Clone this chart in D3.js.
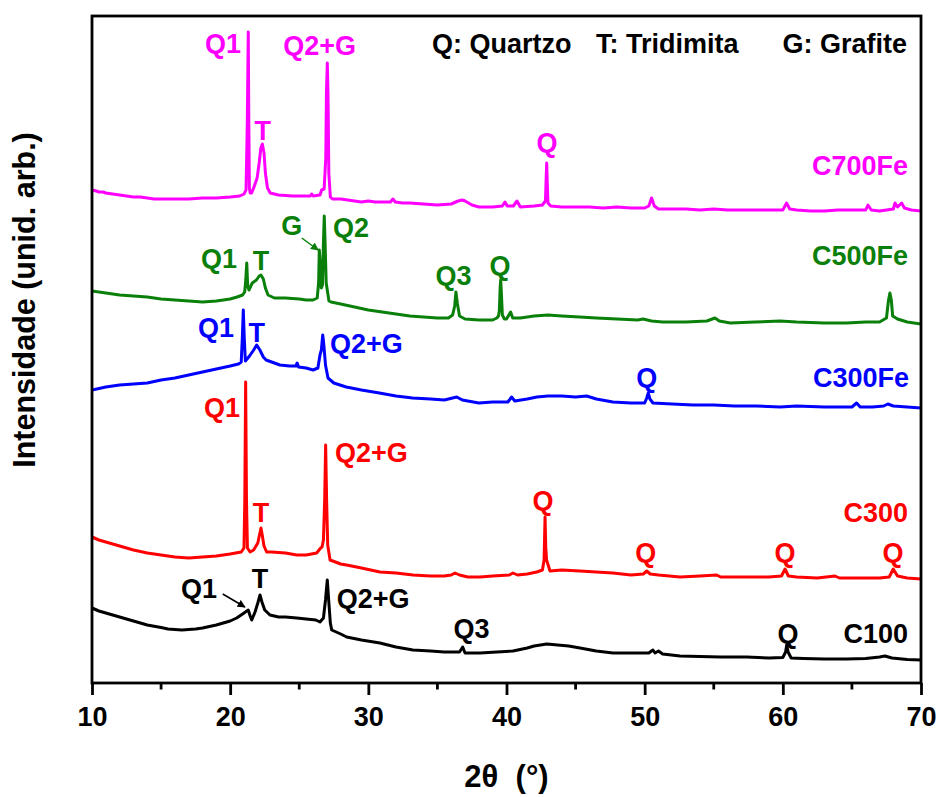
<!DOCTYPE html>
<html>
<head>
<meta charset="utf-8">
<script src="https://cdn.jsdelivr.net/npm/d3@7"></script>
<style>
  html, body { margin: 0; padding: 0; background: #fff; }
  svg text { font-family: "Liberation Sans", Arial, Helvetica, sans-serif; font-weight: bold; }
</style>
</head>
<body>
<svg id="chart" width="938" height="797"></svg>
<script>
// Diffractograms, stacked with a vertical offset (2θ in degrees, intensity in arbitrary units)
const sampleNames = ["C700Fe", "C500Fe", "C300Fe", "C300", "C100"];
const sampleColors = ["#ff00ff", "#0a800a", "#0000ff", "#ff0000", "#000000"];

const c700Fe = [
  [10.0,493],[10.3,492],[10.5,491],[10.8,491],[11.0,490],[11.5,489],[12.0,488],[12.5,487],[13.0,486],[13.5,486],
  [14.0,485],[14.5,484],[15.0,484],[16.0,484],[17.0,484],[18.0,485],[19.0,485],[20.0,486],[20.7,487],[21.0,489],
  [21.15,493],[21.24,560],[21.31,651],[21.35,560],[21.39,495],[21.45,490],[21.55,490],[21.7,495],[21.95,505],
  [22.1,520],[22.22,535],[22.33,539],[22.45,530],[22.55,510],[22.7,495],[22.9,490],[23.5,488],[24.5,487],
  [25.5,487],[25.8,487],[25.9,489],[26.0,487],[26.5,488],[26.62,493],[26.8,494],[26.92,525],[26.97,592],
  [27.03,620],[27.08,590],[27.14,510],[27.25,486],[27.4,484],[28.0,484],[28.5,483],[29.0,482],[29.5,481],
  [30.0,482],[30.5,481],[31.0,481],[31.6,481],[31.78,484],[31.95,481],[32.5,480],[33.0,480],[34.0,479],
  [35.0,478],[36.0,479],[36.5,482],[36.8,483],[37.0,482],[37.5,478],[38.0,476],[39.0,476],[39.7,477],
  [39.89,481],[40.05,477],[40.5,477],[40.76,482],[41.0,476],[42.0,477],[42.6,478],[42.82,482],[42.87,505],
  [42.91,520],[42.95,501],[43.0,480],[43.2,477],[44.0,476],[45.0,476],[46.0,476],[47.0,475],[48.0,476],
  [49.0,475],[50.0,475],[50.3,477],[50.5,485],[50.7,477],[51.0,474],[52.0,474],[53.0,474],[54.0,473],
  [55.0,474],[56.0,473],[57.0,473],[58.0,473],[59.0,473],[60.0,473],[60.27,480],[60.5,474],[61.0,473],
  [62.0,472],[63.0,472],[64.0,473],[65.0,473],[66.0,473],[66.16,478],[66.4,473],[67.0,472],[68.0,474],
  [68.12,480],[68.3,476],[68.6,480],[68.8,475],[69.3,473],[70.0,472]
];

const c500Fe = [
  [10.0,392],[10.5,391],[11.0,390],[12.0,388],[13.0,387],[14.0,386],[15.0,384],[16.0,383],[17.0,382],
  [18.0,381],[19.0,382],[20.0,384],[20.5,386],[20.9,388],[21.05,391],[21.13,403],[21.2,420],[21.27,397],
  [21.36,393],[21.6,400],[21.9,403],[22.1,407],[22.23,408],[22.4,404],[22.55,395],[22.74,388],[23.2,385],
  [24.0,385],[25.0,384],[25.5,383],[26.0,383],[26.3,385],[26.4,400],[26.45,433],[26.52,420],[26.6,395],
  [26.68,398],[26.75,440],[26.81,467],[26.87,440],[26.95,400],[27.15,382],[27.3,381],[28.0,379],[29.0,376],
  [30.0,373],[31.0,371],[32.0,369],[33.0,367],[34.0,366],[35.0,365],[35.8,365],[36.1,368],[36.25,377],
  [36.34,391],[36.45,379],[36.6,367],[37.0,364],[38.0,363],[39.0,363],[39.3,365],[39.42,367],[39.48,372],
  [39.54,395],[39.58,403],[39.63,390],[39.7,368],[39.85,364],[40.0,364],[40.3,371],[40.45,365],[41.0,365],
  [42.0,367],[43.0,368],[44.0,367],[45.3,366],[46.5,365],[48.0,364],[49.5,363],[49.88,364],[50.5,362],
  [51.3,361],[53.0,361],[54.5,362],[55.09,365],[55.4,362],[56.2,360],[58.0,361],[59.8,362],[61.0,361],
  [63.0,360],[64.6,360],[66.0,361],[67.0,361],[67.5,365],[67.65,383],[67.75,390],[67.85,383],[67.95,367],
  [68.3,364],[69.0,361],[70.0,359]
];

const c300Fe = [
  [10.0,293],[11.0,296],[12.0,298],[13.0,299],[14.0,300],[15.0,303],[16.0,305],[17.0,308],[18.0,311],
  [19.0,314],[20.0,317],[20.6,319],[20.8,321],[20.88,345],[20.95,373],[21.02,345],[21.1,322],[21.4,327],
  [21.7,333],[21.92,338],[22.15,333],[22.4,326],[22.6,323],[23.0,321],[23.6,318],[24.3,317],[24.75,317],
  [24.85,320],[24.95,316],[25.5,315],[26.0,313],[26.35,315],[26.5,328],[26.6,333],[26.7,348],[26.78,338],
  [26.9,318],[27.08,305],[27.5,300],[28.4,296],[29.5,293],[30.8,290],[32.0,287],[33.2,285],[34.5,284],
  [35.5,283],[36.1,285],[36.4,286],[36.8,283],[38.0,280],[39.0,281],[40.1,281],[40.37,286],[40.6,282],
  [41.5,284],[42.2,286],[43.0,287],[44.0,287],[45.0,286],[45.8,287],[46.5,284],[47.7,281],[49.0,280],
  [50.0,280],[50.15,285],[50.26,290],[50.38,284],[50.6,280],[52.0,279],[53.5,278],[55.0,278],[56.5,277],
  [58.0,277],[59.8,276],[61.0,277],[63.0,276],[65.0,276],[65.34,280],[65.6,276],[66.5,276],[67.3,277],
  [67.6,279],[68.0,277],[69.0,276],[70.0,275]
];

const c300 = [
  [10.0,146],[10.5,143],[11.0,141],[11.5,139],[12.0,137],[13.0,133],[14.0,130],[15.0,128],[16.0,126],
  [17.0,125],[18.0,126],[19.0,127],[20.0,129],[20.8,131],[21.0,135],[21.06,183],[21.12,301],[21.18,183],
  [21.25,135],[21.44,131],[21.7,133],[22.0,140],[22.15,150],[22.23,155],[22.32,148],[22.45,137],[22.64,131],
  [23.0,131],[24.0,130],[24.82,128],[25.5,128],[26.26,130],[26.55,135],[26.65,136],[26.75,143],[26.84,183],
  [26.91,238],[26.98,183],[27.06,138],[27.23,123],[28.0,119],[28.43,118],[29.5,115],[30.84,111],[32.0,110],
  [33.23,108],[34.5,107],[35.5,107],[36.0,108],[36.27,110],[36.6,108],[37.2,106],[38.08,106],[39.0,107],
  [40.2,108],[40.47,110],[40.8,108],[41.5,109],[42.19,111],[42.6,113],[42.72,123],[42.79,166],[42.84,136],
  [42.9,123],[43.15,112],[44.0,113],[45.32,112],[46.5,111],[47.71,110],[49.0,108],[49.9,109],[50.15,112],
  [50.4,109],[51.0,108],[52.56,106],[54.0,107],[55.21,108],[55.5,106],[57.38,106],[59.0,106],[59.9,107],
  [60.16,114],[60.4,107],[61.0,106],[62.5,105],[63.77,107],[64.1,105],[65.5,105],[67.0,105],[67.7,106],
  [67.99,114],[68.3,107],[69.0,105],[70.0,104]
];

const c100 = [
  [10.0,75],[10.5,72],[11.0,70],[11.5,68],[12.0,66],[13.0,62],[14.0,58],[15.0,55.5],[15.5,54],[16.0,53.5],
  [16.5,53],[17.0,53.5],[17.5,54],[18.0,55],[19.0,58],[20.0,62],[20.47,65],[20.9,69],[21.1,71],[21.31,73],
  [21.45,67],[21.56,63],[21.8,71],[22.0,80],[22.16,88],[22.3,81],[22.5,73],[22.88,68],[23.5,66],[24.0,66],
  [24.82,65],[25.5,64],[26.2,63],[26.5,61],[26.75,65],[26.9,83],[27.03,103],[27.13,83],[27.25,60],[27.35,53],
  [28.0,49],[28.43,46],[29.5,43],[30.84,40],[32.0,36],[33.23,33],[34.5,32],[35.5,31],[36.13,31],[36.6,31],
  [36.83,36],[37.0,30],[38.08,30],[39.3,31],[40.47,32],[41.5,35],[42.0,37],[42.91,39],[43.7,38],[44.5,37],
  [45.32,35],[46.5,32],[47.71,30],[49.0,30],[50.3,30],[50.6,33],[50.75,30],[51.0,32],[51.3,29],[52.56,27],
  [54.0,26.5],[55.5,26],[57.38,26],[59.0,25],[60.0,25.5],[60.2,31],[60.28,38],[60.38,31],[60.6,25],
  [61.5,24.5],[63.0,24],[64.62,24],[66.0,24.5],[67.0,26],[67.39,27],[67.9,25],[69.0,23.5],[70.0,23]
];

const seriesValues = [c700Fe, c500Fe, c300Fe, c300, c100];

// Axis ticks
const majorTicks = [10, 20, 30, 40, 50, 60, 70];
const minorTicks = [15, 25, 35, 45, 55, 65];

// Phase annotations: [text, 2θ, intensity, anchor, series index]
const peakLabels = [
  ["Q1", 19.48, 630, "middle", 0], ["T", 22.35, 543, "middle", 0], ["Q2+G", 26.47, 628, "middle", 0],
  ["Q", 42.93, 531, "middle", 0], ["C700Fe", 69.06, 508, "end", 0],
  ["Q1", 19.19, 415, "middle", 1], ["T", 22.23, 413, "middle", 1], ["G", 24.45, 448, "middle", 1],
  ["Q2", 27.44, 446, "start", 1], ["Q3", 36.16, 398, "middle", 1], ["Q", 39.53, 408, "middle", 1],
  ["C500Fe", 69.06, 418, "end", 1],
  ["Q1", 18.97, 346, "middle", 2], ["T", 21.92, 341, "middle", 2], ["Q2+G", 27.23, 330, "start", 2],
  ["Q", 50.15, 296, "middle", 2], ["C300Fe", 69.13, 296, "end", 2],
  ["Q1", 19.41, 266, "middle", 3], ["T", 22.23, 161, "middle", 3], ["Q2+G", 27.59, 221, "start", 3],
  ["Q", 42.64, 173, "middle", 3], ["Q", 50.07, 121, "middle", 3], ["Q", 60.16, 121, "middle", 3],
  ["Q", 67.97, 121, "middle", 3], ["C300", 69.06, 161, "end", 3],
  ["Q1", 17.74, 85, "middle", 4], ["T", 22.16, 95, "middle", 4], ["Q2+G", 27.71, 75, "start", 4],
  ["Q3", 37.47, 45, "middle", 4], ["Q", 60.37, 40, "middle", 4], ["C100", 69.06, 40, "end", 4]
];

// Arrows pointing at small peaks: [2θ start, intensity start, 2θ end, intensity end, series index]
const peakArrows = [
  [25.18, 445, 26.37, 433, 1],
  [19.46, 89, 21.07, 76, 4]
];

const legendItems = ["Q: Quartzo", "T: Tridimita", "G: Grafite"];

const svg = d3.select("#chart");
const margin = { left: 92, right: 17, top: 16, bottom: 114 };
const W = 938, H = 797;
const x = d3.scaleLinear().domain([10, 70]).range([margin.left, W - margin.right]);
const y = d3.scaleLinear().domain([0, 667]).range([H - margin.bottom, margin.top]);

svg.append("defs").selectAll("marker")
  .data(sampleColors)
  .join("marker")
  .attr("id", (d, i) => "arrow" + i)
  .attr("viewBox", "0 0 10 10")
  .attr("refX", 9).attr("refY", 5)
  .attr("markerWidth", 8).attr("markerHeight", 8)
  .attr("markerUnits", "userSpaceOnUse")
  .attr("orient", "auto")
  .append("path")
  .attr("d", "M0,0 L10,5 L0,10 z")
  .attr("fill", d => d);

svg.append("defs").append("clipPath").attr("id", "plotClip")
  .append("rect")
  .attr("x", x(10)).attr("y", y(667))
  .attr("width", x(70) - x(10)).attr("height", y(0) - y(667));

// Traces
const line = d3.line().x(d => x(d[0])).y(d => y(d[1])).curve(d3.curveLinear);
svg.append("g").attr("clip-path", "url(#plotClip)")
  .selectAll("path")
  .data(seriesValues)
  .join("path")
  .attr("d", line)
  .attr("fill", "none")
  .attr("stroke", (d, i) => sampleColors[i])
  .attr("stroke-width", 3)
  .attr("stroke-linejoin", "round");

// Frame
svg.append("rect")
  .attr("x", x(10)).attr("y", y(667))
  .attr("width", x(70) - x(10)).attr("height", y(0) - y(667))
  .attr("fill", "none").attr("stroke", "#000").attr("stroke-width", 2.8);

// Bottom axis
const xAxis = svg.append("g").attr("transform", `translate(0,${y(0)})`)
  .call(d3.axisBottom(x).tickValues(majorTicks).tickSize(12).tickSizeOuter(0).tickPadding(12).tickFormat(d3.format("d")));
xAxis.select(".domain").remove();
xAxis.selectAll(".tick line").attr("stroke-width", 2.8);
xAxis.selectAll(".tick text")
  .attr("font-size", 27).attr("fill", "#000")
  .style("font-family", "'Liberation Sans', Arial, sans-serif").style("font-weight", "bold");

svg.append("g").selectAll("line")
  .data(minorTicks)
  .join("line")
  .attr("x1", d => x(d)).attr("x2", d => x(d))
  .attr("y1", y(0)).attr("y2", y(0) + 6.5)
  .attr("stroke", "#000").attr("stroke-width", 2.8);

// Axis titles
svg.append("text")
  .attr("x", (x(10) + x(70)) / 2).attr("y", 787)
  .attr("text-anchor", "middle").attr("font-size", 31)
  .attr("xml:space", "preserve")
  .text("2θ  (°)");

svg.append("text")
  .attr("transform", "translate(35,300) rotate(-90)")
  .attr("text-anchor", "middle").attr("font-size", 30.5)
  .text("Intensidade (unid. arb.)");

// Legend
const legendX = [432, 596, 907];
const legendAnchor = ["start", "start", "end"];
svg.append("g").selectAll("text")
  .data(legendItems)
  .join("text")
  .attr("x", (d, i) => legendX[i]).attr("y", 53)
  .attr("text-anchor", (d, i) => legendAnchor[i])
  .attr("font-size", 27)
  .text(d => d);

// Peak labels and sample names
svg.append("g").selectAll("text")
  .data(peakLabels)
  .join("text")
  .attr("x", d => x(d[1])).attr("y", d => y(d[2]))
  .attr("text-anchor", d => d[3])
  .attr("font-size", 27)
  .attr("fill", d => sampleColors[d[4]])
  .text(d => d[0]);

svg.append("g").selectAll("line")
  .data(peakArrows)
  .join("line")
  .attr("x1", d => x(d[0])).attr("y1", d => y(d[1]))
  .attr("x2", d => x(d[2])).attr("y2", d => y(d[3]))
  .attr("stroke", d => sampleColors[d[4]])
  .attr("stroke-width", 1.5)
  .attr("marker-end", d => `url(#arrow${d[4]})`);
</script>
</body>
</html>
